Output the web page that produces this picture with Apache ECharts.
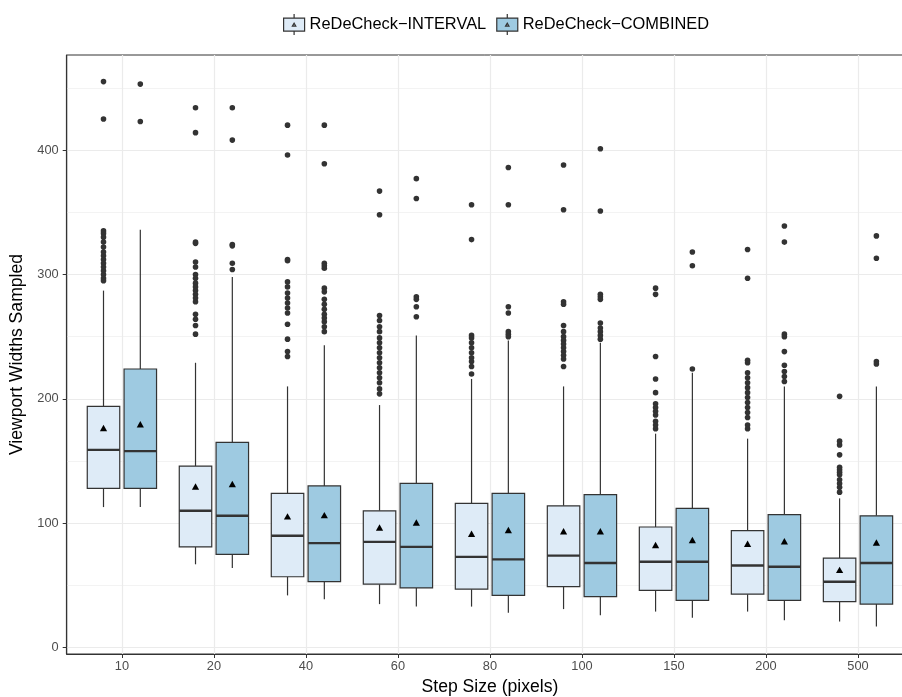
<!DOCTYPE html>
<html>
<head>
<meta charset="utf-8">
<script src="https://cdn.jsdelivr.net/npm/echarts@6/dist/echarts.min.js"></script>
<style>
html,body{margin:0;padding:0;background:#fff;}
#chart{width:902px;height:697px;}
</style>
</head>
<body>
<div id="chart"></div>
<script>
// ---- data ----
const categories = ['10', '20', '40', '60', '80', '100', '150', '200', '500'];
const seriesNames = ['ReDeCheck\u2212INTERVAL', 'ReDeCheck\u2212COMBINED'];

// [lower whisker, Q1, median, Q3, upper whisker]
const intervalStats = [
  [113, 128, 159, 194, 287],
  [67, 81, 110, 146, 229],
  [42, 57, 90, 124, 210],
  [35, 51, 85, 110, 195],
  [33, 47, 73, 116, 216],
  [31, 49, 74, 114, 210],
  [29, 46, 69, 97, 172],
  [29, 43, 66, 94, 168],
  [21, 37, 53, 72, 120]
];
const intervalMeans = [176, 129, 105, 96, 91, 93, 82, 83, 62];

const combinedStats = [
  [113, 128, 158, 224, 336],
  [64, 75, 106, 165, 298],
  [39, 53, 84, 130, 243],
  [33, 48, 81, 132, 251],
  [28, 42, 71, 124, 247],
  [26, 41, 68, 123, 245],
  [24, 38, 69, 112, 221],
  [22, 38, 65, 107, 210],
  [17, 35, 68, 106, 210]
];
const combinedMeans = [179, 131, 106, 100, 94, 93, 86, 85, 84];

const intervalOutliers = [
  [455, 425, 335, 333, 330, 326, 322, 318, 315, 312, 309, 306, 303, 300, 297, 295],
  [434, 414, 326, 325, 310, 306, 300, 297, 293, 290, 287, 284, 281, 278, 268, 264, 259, 252],
  [420, 396, 312, 311, 294, 290, 285, 281, 277, 273, 269, 260, 248, 238, 234],
  [367, 348, 267, 263, 258, 254, 249, 245, 241, 237, 233, 229, 225, 221, 217, 213, 208, 204],
  [356, 328, 251, 249, 245, 241, 237, 233, 230, 226, 220],
  [388, 352, 278, 276, 259, 254, 250, 247, 244, 241, 238, 235, 232, 226],
  [289, 284, 234, 216, 205, 196, 193, 190, 187, 182, 179, 176],
  [320, 297, 231, 229, 221, 217, 213, 209, 205, 201, 197, 193, 189, 185, 179, 176],
  [202, 166, 163, 155, 145, 143, 141, 139, 135, 132, 129, 125]
];
const combinedOutliers = [
  [453, 423],
  [434, 408, 324, 323, 309, 304],
  [420, 389, 309, 307, 305, 289, 286, 280, 276, 272, 268, 265, 262, 258, 254],
  [377, 361, 282, 280, 274, 266],
  [386, 356, 274, 269, 254, 252, 250],
  [401, 351, 284, 282, 280, 261, 257, 254, 251, 248],
  [318, 307, 224],
  [339, 326, 252, 250, 238, 227, 222, 218, 214],
  [331, 313, 230, 228]
];

const yTicks = [0, 100, 200, 300, 400];

// ---- build ----
const colors = ['#DEEBF7', '#9ECAE1'];
const DODGE = 0.2;    // in category units
const BOX_W = 0.353;  // in category units
const INK = '#333333';

function boxData(stats, means) {
  return stats.map((s, i) => [i, s[0], s[1], s[2], s[3], s[4], means[i]]);
}
function outlierData(out) {
  const d = [];
  out.forEach((arr, i) => arr.forEach(v => d.push([i, v])));
  return d;
}

function boxRender(offset, color) {
  return function (params, api) {
    const i = api.value(0);
    const c = api.coord([i + offset, 0]);
    const cx = c[0];
    const hw = api.size([BOX_W, 0])[0] / 2;
    const yy = k => api.coord([i, api.value(k)])[1];
    const yLow = yy(1), yQ1 = yy(2), yMed = yy(3), yQ3 = yy(4), yHigh = yy(5), yMean = yy(6);
    return {
      type: 'group',
      children: [
        { type: 'line', shape: { x1: cx, y1: yHigh, x2: cx, y2: yQ3 }, style: { stroke: INK, lineWidth: 1.2 } },
        { type: 'line', shape: { x1: cx, y1: yQ1, x2: cx, y2: yLow }, style: { stroke: INK, lineWidth: 1.2 } },
        { type: 'rect', shape: { x: cx - hw, y: yQ3, width: 2 * hw, height: yQ1 - yQ3 }, style: { fill: color, stroke: INK, lineWidth: 1.2 } },
        { type: 'line', shape: { x1: cx - hw, y1: yMed, x2: cx + hw, y2: yMed }, style: { stroke: INK, lineWidth: 2.4 } },
        { type: 'polygon', shape: { points: [[cx, yMean - 3.9], [cx - 3.6, yMean + 2.5], [cx + 3.6, yMean + 2.5]] }, style: { fill: '#000' } }
      ]
    };
  };
}
function outlierRender(offset) {
  return function (params, api) {
    const p = api.coord([api.value(0) + offset, api.value(1)]);
    return { type: 'circle', shape: { cx: p[0], cy: p[1], r: 2.8 }, style: { fill: INK } };
  };
}

const legendIcon = 'path://M0,4L21,4L21,17L0,17Z M10.5,0L10.5,4 M10.5,17L10.5,21 M8.8,12L10.5,9L12.2,12Z';

const chart = echarts.init(document.getElementById('chart'), null, { renderer: 'canvas' });
chart.setOption({
  animation: false,
  backgroundColor: '#ffffff',
  textStyle: { fontFamily: 'Liberation Sans, Arial, sans-serif' },
  legend: {
    left: 278,
    top: 8.5,
    itemWidth: 21,
    itemHeight: 21,
    itemGap: 10,
    selectedMode: false,
    textStyle: { fontSize: 16.4, color: '#000', fontFamily: 'Liberation Sans, Arial, sans-serif' },
    data: seriesNames.map((n, k) => ({
      name: n,
      icon: legendIcon,
      itemStyle: { color: colors[k], borderColor: INK, borderWidth: 1.2 }
    }))
  },
  grid: {
    left: 66.7,
    right: -11.2,
    top: 55,
    bottom: 43,
    show: true,
    borderColor: '#333',
    borderWidth: 1,
    backgroundColor: 'transparent',
    outerBoundsMode: 'none',
    containLabel: false
  },
  xAxis: {
    type: 'value',
    min: -0.6,
    max: 8.6,
    splitNumber: 9,
    name: 'Step Size (pixels)',
    nameLocation: 'middle',
    nameGap: 22,
    nameTextStyle: { fontSize: 17.6, color: '#000' },
    axisLine: { show: true, onZero: false, lineStyle: { color: '#333', width: 1.2 } },
    axisTick: { show: true, length: 4, customValues: categories.map((c, i) => i), lineStyle: { color: '#333' } },
    axisLabel: {
      show: true,
      margin: 6,
      fontSize: 12.8,
      color: '#4D4D4D',
      customValues: categories.map((c, i) => i),
      formatter: v => categories[Math.round(v)] || ''
    },
    splitLine: { show: true, lineStyle: { color: '#EBEBEB', width: 1.2 } }
  },
  yAxis: {
    type: 'value',
    min: -5.1,
    max: 476.4,
    splitNumber: 5,
    name: 'Viewport Widths Sampled',
    nameLocation: 'middle',
    nameGap: 39,
    nameRotate: 90,
    nameTextStyle: { fontSize: 17.6, color: '#000' },
    axisLine: { show: true, onZero: false, lineStyle: { color: '#333', width: 1.2 } },
    axisTick: { show: true, length: 4, customValues: yTicks, lineStyle: { color: '#333' } },
    axisLabel: {
      show: true,
      margin: 8,
      fontSize: 12.8,
      color: '#4D4D4D',
      customValues: yTicks,
      formatter: v => (yTicks.indexOf(v) >= 0 ? String(v) : '')
    },
    splitLine: { show: true, lineStyle: { color: '#EBEBEB', width: 1.2 } },
    minorTick: { show: false, splitNumber: 2 },
    minorSplitLine: { show: true, lineStyle: { color: '#F0F0F0', width: 0.8 } }
  },
  series: [
    {
      name: seriesNames[0],
      type: 'custom',
      renderItem: boxRender(-DODGE, colors[0]),
      itemStyle: { color: colors[0] },
      encode: { x: 0, y: [1, 2, 3, 4, 5] },
      data: boxData(intervalStats, intervalMeans),
      z: 3
    },
    {
      name: seriesNames[1],
      type: 'custom',
      renderItem: boxRender(DODGE, colors[1]),
      itemStyle: { color: colors[1] },
      encode: { x: 0, y: [1, 2, 3, 4, 5] },
      data: boxData(combinedStats, combinedMeans),
      z: 3
    },
    {
      name: seriesNames[0],
      type: 'custom',
      renderItem: outlierRender(-DODGE),
      itemStyle: { color: colors[0] },
      encode: { x: 0, y: 1 },
      data: outlierData(intervalOutliers),
      z: 4
    },
    {
      name: seriesNames[1],
      type: 'custom',
      renderItem: outlierRender(DODGE),
      itemStyle: { color: colors[1] },
      encode: { x: 0, y: 1 },
      data: outlierData(combinedOutliers),
      z: 4
    }
  ]
});
</script>
</body>
</html>
